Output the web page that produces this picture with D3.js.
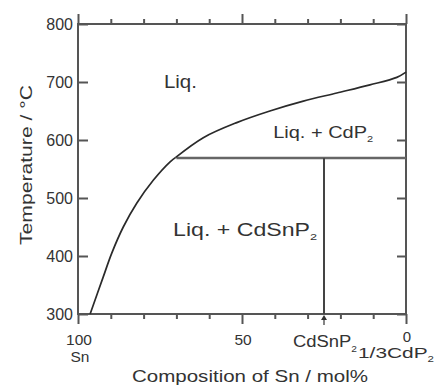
<!DOCTYPE html>
<html>
<head>
<meta charset="utf-8">
<script src="https://cdn.jsdelivr.net/npm/d3@7"></script>
<style>
  body { margin: 0; background: #fff; }
  text { font-family: "Liberation Sans", Arial, sans-serif; fill: #333; }
</style>
</head>
<body>
<div class="chart"></div>
<script>
// data (Sn mol%, temperature in C)
const tempTicks = [300, 400, 500, 600, 700, 800];
const compTicks = [0, 10, 20, 30, 40, 50, 60, 70, 80, 90, 100];
const leftLiquidus = [[96.3, 300], [92.3, 364], [89.7, 405], [86.2, 450], [82.1, 491], [77, 531], [72, 562], [70.2, 570]];
const rightLiquidus = [[70.2, 570], [61.8, 604], [51.6, 630], [41.5, 650], [31.3, 667], [21.1, 681], [11, 695], [2.8, 708], [0, 717]];
const eutecticT = 569;
const eutecticSn = 70;
const compoundSn = 25;

const width = 436, height = 385;

const svg = d3.select('.chart')
    .append('svg')
    .attr('width', width)
    .attr('height', height);

//scales
const x = d3.scaleLinear().domain([100, 0]).range([78, 406]);
const y = d3.scaleLinear().domain([300, 800]).range([314, 24]);

const axisColor = '#555';

//bottom & top axes, ticks outward, longer at 0/50/100
function styleX(g, dir) {
    g.select('.domain').remove();
    g.selectAll('.tick line')
        .attr('stroke', axisColor)
        .attr('stroke-width', 2)
        .attr('y2', d => dir * (d % 50 === 0 ? 10 : 5));
    g.selectAll('.tick text').remove();
}
svg.append('g')
    .attr('transform', `translate(0,${y(300)})`)
    .call(d3.axisBottom(x).tickValues(compTicks).tickFormat(''))
    .call(g => styleX(g, 1));
svg.append('g')
    .attr('transform', `translate(0,${y(800)})`)
    .call(d3.axisTop(x).tickValues(compTicks).tickFormat(''))
    .call(g => styleX(g, -1));

//left & right axes, ticks inward
svg.append('g')
    .attr('transform', `translate(${x(100)},0)`)
    .call(d3.axisLeft(y).tickValues(tempTicks).tickSize(-10).tickSizeOuter(0).tickPadding(5))
    .call(g => g.selectAll('.tick line').attr('stroke', axisColor).attr('stroke-width', 2))
    .call(g => g.selectAll('.tick text').attr('font-size', 16).attr('fill', '#333'));
svg.append('g')
    .attr('transform', `translate(${x(0)},0)`)
    .call(d3.axisRight(y).tickValues(tempTicks).tickSize(-9).tickSizeOuter(0).tickFormat(''))
    .call(g => g.selectAll('.tick line').attr('stroke', axisColor).attr('stroke-width', 2));

//frame
svg.append('rect')
    .attr('x', x(100)).attr('y', y(800))
    .attr('width', x(0) - x(100)).attr('height', y(300) - y(800))
    .attr('fill', 'none').attr('stroke', axisColor).attr('stroke-width', 2);

//eutectic horizontal & compound vertical
svg.append('line')
    .attr('x1', x(eutecticSn)).attr('x2', x(0))
    .attr('y1', y(eutecticT)).attr('y2', y(eutecticT))
    .attr('stroke', '#666').attr('stroke-width', 2.5);
svg.append('line')
    .attr('x1', x(compoundSn)).attr('x2', x(compoundSn))
    .attr('y1', y(eutecticT)).attr('y2', y(300))
    .attr('stroke', '#444').attr('stroke-width', 2);

//liquidus curves
const line = d3.line()
    .x(d => x(d[0]))
    .y(d => y(d[1]))
    .curve(d3.curveCatmullRom);
[leftLiquidus, rightLiquidus].forEach(s => {
    svg.append('path')
        .datum(s)
        .attr('fill', 'none')
        .attr('stroke', '#2a2a2a')
        .attr('stroke-width', 1.7)
        .attr('d', line);
});

//arrow under CdSnP2
const ax = x(compoundSn), ay = y(300);
svg.append('path')
    .attr('d', `M${ax},${ay + 1}L${ax - 3},${ay + 6}L${ax + 3},${ay + 6}Z`)
    .attr('fill', '#333');
svg.append('line')
    .attr('x1', ax).attr('x2', ax).attr('y1', ay + 5).attr('y2', ay + 11)
    .attr('stroke', '#333').attr('stroke-width', 1.2);

//text helper with subscript
function label(px, py, main, sub, size, len, anchor, subDy) {
    const t = svg.append('text')
        .attr('x', px).attr('y', py)
        .attr('font-size', size)
        .attr('text-anchor', anchor || 'start');
    t.append('tspan').text(main);
    if (sub) t.append('tspan').attr('font-size', size * 0.55).attr('dy', subDy || 4).text(sub);
    if (len) t.attr('textLength', len).attr('lengthAdjust', 'spacingAndGlyphs');
    return t;
}

//region labels
label(x(73.8), y(689), 'Liq.', null, 18, 33);
label(x(40.5), y(603), 'Liq. + CdP', '2', 17, 100);
label(x(71), y(434), 'Liq. + CdSnP', '2', 18, 144);

//bottom tick labels
label(x(100) + 1, 345, '100', null, 15.5, null, 'middle');
label(x(100) + 2, 362, 'Sn', null, 15.5, null, 'middle');
label(x(50) + 1, 345, '50', null, 15.5, null, 'middle');
label(x(0) + 1, 342, '0', null, 15, null, 'middle');
label(x(compoundSn) - 31, 346.5, 'CdSnP', '2', 16, 64, null, 5);
label(x(0) - 48, 358, '1/3CdP', '2', 15.5, 76, null, 4);

//axis titles
label(132, 381.5, 'Composition of Sn / mol%', null, 17, 236);
svg.append('text')
    .attr('transform', 'translate(32,165) rotate(-90)')
    .attr('text-anchor', 'middle')
    .attr('font-size', 17)
    .attr('textLength', 160)
    .attr('lengthAdjust', 'spacingAndGlyphs')
    .text('Temperature / °C');
</script>
</body>
</html>
